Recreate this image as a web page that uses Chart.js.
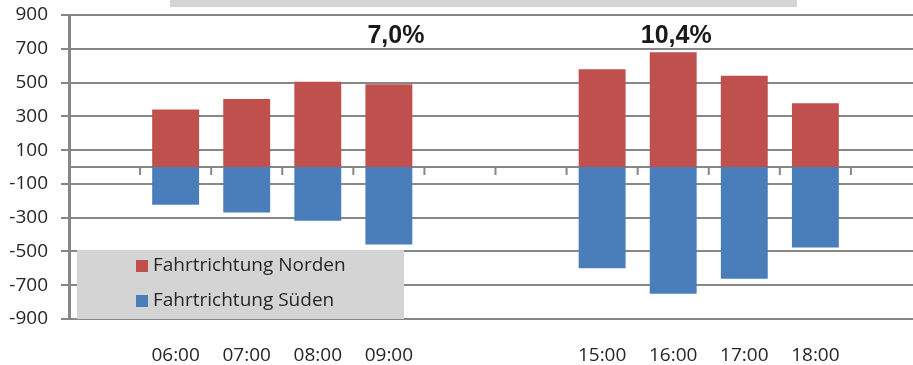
<!DOCTYPE html>
<html>
<head>
<meta charset="utf-8">
<script src="https://cdn.jsdelivr.net/npm/chart.js@4/dist/chart.umd.min.js"></script>
<style>
  html, body { margin: 0; padding: 0; background: #fff; overflow: hidden; }
  #wrap { width: 925px; height: 365px; }
</style>
</head>
<body>
<div id="wrap"><canvas id="chart"></canvas></div>
<script>
const hours = ['', '06:00', '07:00', '08:00', '09:00', ' ', '  ', '15:00', '16:00', '17:00', '18:00', '   '];
const norden = [null, 340, 403, 505, 490, null, null, 579, 679, 541, 377, null];
const sueden = [null, -224, -269, -318, -459, null, null, -600, -750, -662, -476, null];
const yTicks = [-900, -700, -500, -300, -100, 100, 300, 500, 700, 900];
const shares = ['7,0%', '10,4%'];
const shareAt = [4, 8];

const grey = '#878787';
const font = "'Open Sans', sans-serif";

// Zero line, boundary ticks, legend box, percent labels
const extras = {
  id: 'extras',
  beforeDatasetsDraw(chart) {
    const { ctx, chartArea } = chart;
    const x = chart.scales.x, y = chart.scales.y;
    const y0 = y.getPixelForValue(0);
    ctx.save();
    ctx.strokeStyle = grey;
    ctx.lineWidth = 2;
    ctx.beginPath();
    ctx.moveTo(chartArea.left, y0);
    ctx.lineTo(chartArea.right, y0);
    for (let i = 1; i < hours.length; i++) {
      const bx = (x.getPixelForValue(i - 1) + x.getPixelForValue(i)) / 2;
      ctx.moveTo(bx, y0);
      ctx.lineTo(bx, y0 + 8);
    }
    ctx.stroke();
    ctx.restore();
  },
  afterDatasetsDraw(chart) {
    const { ctx } = chart;
    const x = chart.scales.x, y = chart.scales.y;
    ctx.save();
    // title box (cut off at top)
    ctx.fillStyle = '#d4d4d4';
    ctx.fillRect(170, 0, 627, 7);

    // legend box
    ctx.fillStyle = '#d4d4d4';
    ctx.fillRect(77, 250, 327, 69);
    ctx.font = "19px " + font;
    ctx.textBaseline = 'middle';
    ctx.textAlign = 'left';
    chart.data.datasets.forEach((ds, i) => {
      const cy = 266 + i * 35;
      ctx.fillStyle = ds.backgroundColor;
      ctx.fillRect(136, cy - 6, 12, 12);
      ctx.fillStyle = '#262626';
      ctx.fillText(ds.label, 153, cy);
    });

    // percent labels
    ctx.font = "bold 25px 'Liberation Sans', Arial, sans-serif";
    ctx.textAlign = 'center';
    ctx.fillStyle = '#1a1a1a';
    shares.forEach((s, i) => {
      ctx.fillText(s, x.getPixelForValue(shareAt[i]) + (i === 0 ? 7 : 3), y.getPixelForValue(774));
    });
    ctx.restore();
  }
};

new Chart(document.getElementById('chart'), {
  type: 'bar',
  data: {
    labels: hours,
    datasets: [
      { label: 'Fahrtrichtung Norden', data: norden, backgroundColor: '#c0504d' },
      { label: 'Fahrtrichtung Süden', data: sueden, backgroundColor: '#4a7ebb' }
    ]
  },
  options: {
    responsive: true,
    maintainAspectRatio: false,
    animation: false,
    layout: { padding: { top: 15, right: 3, left: 0, bottom: 0 } },
    datasets: { bar: { barPercentage: 0.66, categoryPercentage: 1 } },
    scales: {
      x: {
        stacked: true,
        grid: { display: false },
        border: { display: false },
        ticks: { color: '#262626', font: { family: font, size: 19 }, padding: 17, maxRotation: 0, autoSkip: false },
        afterFit(s) { s.height = 46; s.paddingLeft = 0; s.paddingRight = 0; }
      },
      y: {
        stacked: true,
        min: -900,
        max: 900,
        afterBuildTicks(s) { s.ticks = yTicks.map(v => ({ value: v })); },
        grid: { color: grey, lineWidth: 2, tickLength: 8 },
        border: { display: true, color: grey, width: 3 },
        ticks: { color: '#262626', font: { family: font, size: 19 }, padding: 13 },
        afterFit(s) { s.width = 69; s.paddingTop = 0; s.paddingBottom = 0; }
      }
    },
    plugins: {
      legend: { display: false },
      tooltip: { enabled: false }
    }
  },
  plugins: [extras]
});
</script>
</body>
</html>
